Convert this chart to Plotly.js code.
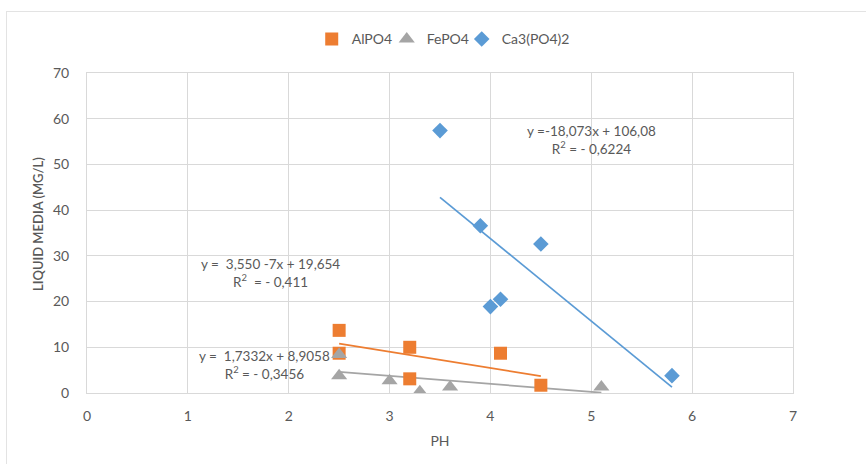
<!DOCTYPE html>
<html>
<head>
<meta charset="utf-8">
<script src="https://cdn.plot.ly/plotly-3.0.1.min.js"></script>
<style>
  html, body { margin: 0; padding: 0; background: #fff; overflow: hidden; }
  #frame { position: absolute; left: 6px; top: 11px; width: 900px; height: 500px;
           border-left: 1.5px solid #e3e3e3; border-top: 1.5px solid #e3e3e3; box-sizing: border-box; }
  #chart { position: absolute; left: 0; top: 0; width: 866px; height: 464px; }
</style>
</head>
<body>
<div id="frame"></div>
<div id="chart"></div>
<script>
// Data
const alX = [2.5, 2.5, 3.2, 3.2, 4.1, 4.5];
const alY = [13.7, 8.7, 10.0, 3.1, 8.7, 1.7];
const feX = [2.5, 2.5, 3.0, 3.3, 3.6, 5.1];
const feY = [8.4, 3.8, 2.7, 0.3, 1.3, 1.3];
const caX = [3.5, 3.9, 4.5, 4.0, 4.1, 5.8];
const caY = [57.4, 36.6, 32.6, 18.9, 20.5, 3.8];

// Trendline endpoints
const alTrendX = [2.5, 4.5];
const alTrendY = [10.8, 3.7];
const feTrendX = [2.5, 5.1];
const feTrendY = [4.6, 0.07];
const caTrendX = [3.5, 5.8];
const caTrendY = [42.8, 1.3];

const seriesNames = ["AlPO4", "FePO4", "Ca3(PO4)2"];
const yTitle = "LIQUID MEDIA (MG/L)";
const eqTexts = [
  "y =  3,550 -7x + 19,654<br>R<sup>2</sup>  = - 0,411",
  "y =  1,7332x + 8,9058<br>R<sup>2</sup> = - 0,3456",
  "y =-18,073x + 106,08<br>R<sup>2</sup> = - 0,6224"
];

const ORANGE = "#ED7D31", GRAY = "#A5A5A5", BLUE = "#5B9BD5";
const FONT = "Lato, 'Open Sans', sans-serif";
const TXT = "#595959";

const traces = [
  {x: alTrendX, y: alTrendY, mode: "lines", line: {color: ORANGE, width: 1.7}, showlegend: false, hoverinfo: "skip"},
  {x: feTrendX, y: feTrendY, mode: "lines", line: {color: GRAY, width: 1.7}, showlegend: false, hoverinfo: "skip"},
  {x: caTrendX, y: caTrendY, mode: "lines", line: {color: BLUE, width: 1.7}, showlegend: false, hoverinfo: "skip"},
  {x: alX, y: alY, mode: "markers", name: seriesNames[0], legendwidth: 30, marker: {symbol: "square", size: 13, color: ORANGE}},
  {x: feX, y: feY, mode: "markers", name: seriesNames[1], legendwidth: 30, marker: {symbol: "triangle-up", size: 14, color: GRAY}},
  {x: caX, y: caY, mode: "markers", name: seriesNames[2], legendwidth: 90, marker: {symbol: "diamond", size: 12, color: BLUE}}
];

const layout = {
  width: 866, height: 464,
  margin: {l: 87, r: 73, t: 73, b: 71, pad: 0},
  paper_bgcolor: "rgba(0,0,0,0)",
  plot_bgcolor: "rgba(0,0,0,0)",
  font: {family: FONT, color: TXT, size: 14},
  showlegend: true,
  legend: {orientation: "h", x: 0.3183, xanchor: "left", y: 1.105, yanchor: "middle",
           font: {size: 14, color: TXT}, itemwidth: 30, tracegroupgap: 0},
  xaxis: {
    range: [0, 7], dtick: 1, tick0: 0, showgrid: true, gridcolor: "#d9d9d9", gridwidth: 1,
    zeroline: false, showline: true, mirror: true, linecolor: "#d9d9d9", linewidth: 1,
    ticks: "", ticklabelstandoff: 10, tickfont: {size: 14, color: TXT},
    title: {text: "PH", font: {size: 14, color: TXT}, standoff: 13}
  },
  yaxis: {
    range: [0, 70], dtick: 10, tick0: 0, showgrid: true, gridcolor: "#d9d9d9", gridwidth: 1,
    zeroline: false, showline: true, mirror: true, linecolor: "#d9d9d9", linewidth: 1,
    ticks: "", ticklabelstandoff: 14, tickfont: {size: 14, color: TXT}
  },
  annotations: [
    {x: -0.0694, y: 0.528, xref: "paper", yref: "paper", text: yTitle, textangle: -90,
     showarrow: false, xanchor: "center", yanchor: "middle",
     font: {size: 13, color: TXT, weight: 600}},
    {x: 1.82, y: 26.2, xref: "x", yref: "y", text: eqTexts[0], showarrow: false, align: "center",
     font: {size: 13.5, color: TXT}},
    {x: 1.76, y: 6.2, xref: "x", yref: "y", text: eqTexts[1], showarrow: false, align: "center",
     font: {size: 13.5, color: TXT}},
    {x: 5.0, y: 55.3, xref: "x", yref: "y", text: eqTexts[2], showarrow: false, align: "center",
     font: {size: 13.5, color: TXT}}
  ]
};

Plotly.newPlot("chart", traces, layout, {displayModeBar: false, staticPlot: true});
</script>
</body>
</html>
